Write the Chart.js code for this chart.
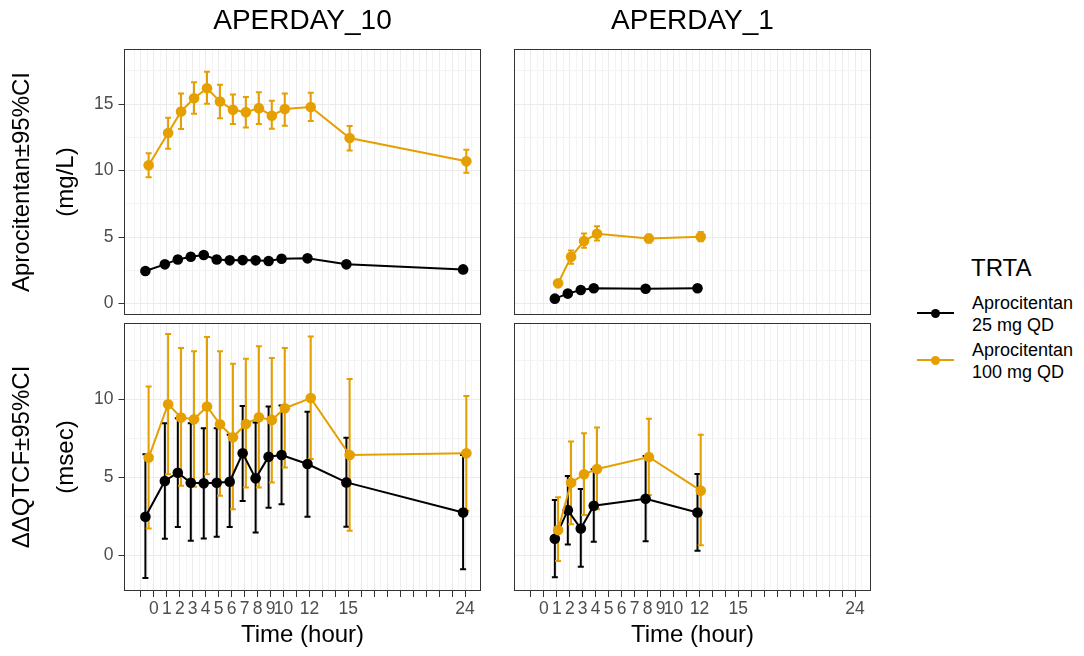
<!DOCTYPE html>
<html>
<head>
<meta charset="utf-8">
<script src="https://cdn.jsdelivr.net/npm/chart.js@4.4.0/dist/chart.umd.min.js"></script>
<style>
  html, body { margin: 0; padding: 0; background: #ffffff; }
  body { width: 1084px; height: 656px; position: relative; overflow: hidden;
         font-family: "Liberation Sans", Arial, sans-serif; }
  .pane { position: absolute; }
  .pane canvas { display: block; }
  .lg { position: absolute; white-space: nowrap; color: #000; }
  .lgline { position: absolute; height: 2px; }
  .lgdot { position: absolute; width: 9px; height: 9px; border-radius: 50%; }
</style>
</head>
<body>
<div class="pane" style="left:0px;top:0px"><canvas id="tl" width="482" height="316"></canvas></div>
<div class="pane" style="left:513px;top:0px"><canvas id="tr" width="359" height="316"></canvas></div>
<div class="pane" style="left:0px;top:322px"><canvas id="bl" width="482" height="334"></canvas></div>
<div class="pane" style="left:513px;top:322px"><canvas id="br" width="359" height="334"></canvas></div>

<div class="lg" style="left:971px;top:254px;font-size:24px;line-height:28px;">TRTA</div>
<div class="lgline" style="left:917px;top:312px;width:37px;background:#000000;"></div>
<div class="lgdot" style="left:931px;top:308.5px;background:#000000;"></div>
<div class="lg" style="left:972px;top:292px;font-size:18px;line-height:22px;">Aprocitentan<br>25 mg QD</div>
<div class="lgline" style="left:917px;top:359px;width:37px;background:#E69F00;"></div>
<div class="lgdot" style="left:931px;top:355.5px;background:#E69F00;"></div>
<div class="lg" style="left:972px;top:339px;font-size:18px;line-height:22px;">Aprocitentan<br>100 mg QD</div>

<script>
// ---------------- DATA ----------------
const treatments = ['Aprocitentan 25 mg QD', 'Aprocitentan 100 mg QD'];
const facets = ['APERDAY_10', 'APERDAY_1'];
const yTitleConc = ['Aprocitentan\u00B195%CI', '(mg/L)'];
const yTitleQtc = ['\u0394\u0394QTCF\u00B195%CI', '(msec)'];
const xTitle = 'Time (hour)';

const timesDay10 = [-0.5, 1, 2, 3, 4, 5, 6, 7, 8, 9, 10, 12, 15, 24];
const timesDay1 = [1, 2, 3, 4, 8, 12];

const xTickValues = [0, 1, 2, 3, 4, 5, 6, 7, 8, 9, 10, 12, 15, 24];
const xTickLabels = ['0', '1', '2', '3', '4', '5', '6', '7', '8', '9', '10', '12', '15', '24'];
const yTickValuesConc = [0, 5, 10, 15];
const yTickLabelsConc = ['0', '5', '10', '15'];
const yTickValuesQtc = [0, 5, 10];
const yTickLabelsQtc = ['0', '5', '10'];

// Concentration, APERDAY_10
const conc10_25 =   [2.45, 2.95, 3.32, 3.52, 3.65, 3.32, 3.25, 3.27, 3.25, 3.20, 3.37, 3.40, 2.95, 2.57];
const conc10_25Lo = [2.25, 2.75, 3.10, 3.30, 3.42, 3.10, 3.05, 3.07, 3.05, 3.00, 3.15, 3.18, 2.75, 2.35];
const conc10_25Hi = [2.65, 3.15, 3.54, 3.74, 3.88, 3.54, 3.45, 3.47, 3.45, 3.40, 3.59, 3.62, 3.15, 2.79];
const conc10_100 =   [10.40, 12.83, 14.45, 15.45, 16.20, 15.20, 14.58, 14.40, 14.70, 14.13, 14.63, 14.78, 12.45, 10.70];
const conc10_100Lo = [9.50, 11.65, 13.13, 14.28, 15.03, 13.95, 13.50, 13.25, 13.50, 13.15, 13.38, 13.73, 11.52, 9.85];
const conc10_100Hi = [11.30, 13.98, 15.80, 16.65, 17.43, 16.47, 15.72, 15.53, 15.90, 15.25, 15.80, 15.85, 13.35, 11.57];

// Concentration, APERDAY_1
const conc1_25 =   [0.37, 0.75, 1.02, 1.15, 1.12, 1.15];
const conc1_25Lo = [0.27, 0.63, 0.90, 1.02, 0.99, 1.01];
const conc1_25Hi = [0.47, 0.87, 1.14, 1.28, 1.25, 1.29];
const conc1_100 =   [1.52, 3.52, 4.70, 5.25, 4.90, 5.03];
const conc1_100Lo = [1.30, 3.00, 4.20, 4.75, 4.60, 4.68];
const conc1_100Hi = [1.74, 4.00, 5.27, 5.82, 5.20, 5.38];

// ddQTcF, APERDAY_10
const qtc10_25 =   [2.46, 4.76, 5.29, 4.65, 4.61, 4.65, 4.71, 6.54, 4.93, 6.32, 6.43, 5.85, 4.67, 2.74];
const qtc10_25Lo = [-1.46, 1.05, 1.80, 0.92, 1.07, 1.18, 1.80, 3.47, 1.46, 3.04, 3.26, 2.46, 1.82, -0.90];
const qtc10_25Hi = [6.47, 8.47, 8.79, 8.47, 8.15, 8.15, 7.72, 9.58, 8.51, 9.54, 9.60, 9.20, 7.54, 6.43];
const qtc10_100 =   [6.26, 9.69, 8.83, 8.72, 9.54, 8.40, 7.57, 8.42, 8.85, 8.68, 9.43, 10.08, 6.43, 6.54];
const qtc10_100Lo = [1.71, 5.19, 4.46, 4.39, 5.19, 3.81, 2.94, 4.35, 4.35, 4.67, 5.62, 6.17, 1.56, 2.85];
const qtc10_100Hi = [10.82, 14.19, 13.29, 13.08, 14.00, 13.08, 12.28, 12.60, 13.40, 12.65, 13.29, 14.04, 11.30, 10.22];

// ddQTcF, APERDAY_1
const qtc1_25 =   [1.05, 2.89, 1.71, 3.17, 3.62, 2.74];
const qtc1_25Lo = [-1.41, 0.69, -0.75, 0.86, 0.90, 0.28];
const qtc1_25Hi = [3.54, 5.08, 4.24, 5.51, 6.37, 5.21];
const qtc1_100 =   [1.61, 4.65, 5.19, 5.53, 6.30, 4.14];
const qtc1_100Lo = [-0.37, 1.99, 2.57, 2.94, 3.86, 0.64];
const qtc1_100Hi = [3.71, 7.29, 7.83, 8.19, 8.75, 7.72];

// ---------------- STYLE / LAYOUT ----------------
const COLORS = ['#000000', '#E69F00'];
const DODGE = [-0.15, 0.10];
const FONT = '"Liberation Sans", Arial, sans-serif';
Chart.defaults.font.family = FONT;

const X_MIN = -2.3, X_MAX = 25.23;
const X_MAJOR_MIN = -1, X_MAJOR_MAX = 24;
const CONC_RANGE = [-0.86, 19.15];
const QTC_RANGE = [-2.3, 14.9];

function range(a, b, step) { const r = []; for (let v = a; v <= b + 1e-9; v += step) r.push(Math.round(v * 100) / 100); return r; }
const xGrid = range(X_MAJOR_MIN - 0.5, X_MAJOR_MAX + 0.5, 0.5);
const isInt = v => Math.abs(v - Math.round(v)) < 1e-6;

function zeroPad(s) { s.paddingLeft = 0; s.paddingRight = 0; s.paddingTop = 0; s.paddingBottom = 0; }

const errorBars = {
  id: 'errorBars',
  beforeDatasetsDraw(chart) {
    const { ctx, chartArea } = chart;
    const xs = chart.scales.x, ys = chart.scales.y;
    ctx.save();
    ctx.beginPath();
    ctx.rect(chartArea.left, chartArea.top, chartArea.width, chartArea.height);
    ctx.clip();
    chart.data.datasets.forEach(ds => {
      ctx.strokeStyle = ds.borderColor;
      ctx.lineWidth = 2;
      ds.data.forEach((p, i) => {
        const px = xs.getPixelForValue(p.x);
        const y1 = ys.getPixelForValue(ds.errLo[i]);
        const y2 = ys.getPixelForValue(ds.errHi[i]);
        ctx.beginPath();
        ctx.moveTo(px, y1); ctx.lineTo(px, y2);
        ctx.moveTo(px - 3, y1); ctx.lineTo(px + 3, y1);
        ctx.moveTo(px - 3, y2); ctx.lineTo(px + 3, y2);
        ctx.stroke();
      });
    });
    ctx.restore();
  }
};

const panelBorder = {
  id: 'panelBorder',
  afterDraw(chart) {
    const { ctx, chartArea } = chart;
    ctx.save();
    ctx.strokeStyle = '#333333';
    ctx.lineWidth = 1;
    ctx.strokeRect(Math.round(chartArea.left) + 0.5, Math.round(chartArea.top) + 0.5,
                   Math.round(chartArea.width) - 1, Math.round(chartArea.height) - 1);
    ctx.restore();
  }
};

function makeDataset(idx, times, vals, lo, hi) {
  return {
    label: treatments[idx],
    data: times.map((t, i) => ({ x: t + DODGE[idx], y: vals[i] })),
    errLo: lo, errHi: hi,
    borderColor: COLORS[idx], backgroundColor: COLORS[idx],
    pointBackgroundColor: COLORS[idx], pointBorderWidth: 0,
    pointRadius: 5.3, borderWidth: 2, tension: 0,
    order: idx === 0 ? 1 : 0
  };
}

function panel(id, cfg) {
  const yMajor = cfg.yTicks;
  const yGrid = range(0, cfg.yRange[1], 2.5);
  new Chart(document.getElementById(id), {
    type: 'line',
    data: { datasets: cfg.datasets },
    plugins: [errorBars, panelBorder],
    options: {
      responsive: false, animation: false, devicePixelRatio: 1, events: [],
      layout: { padding: cfg.padding, autoPadding: false },
      plugins: {
        legend: { display: false }, tooltip: { enabled: false },
        title: {
          display: !!cfg.facet, text: cfg.facet || '', fullSize: false, color: '#000000',
          font: { size: 28, weight: 'normal', lineHeight: '32px' },
          padding: { top: 5, bottom: 12 }
        }
      },
      scales: {
        x: {
          type: 'linear', min: X_MIN, max: X_MAX,
          afterBuildTicks: s => { s.ticks = xGrid.map(v => ({ value: v })); },
          afterFit: s => { s.height = cfg.showX ? 65 : 0; zeroPad(s); },
          ticks: {
            display: cfg.showX, autoSkip: false, maxRotation: 0, minRotation: 0,
            padding: 1.5, color: '#4D4D4D', font: { size: 17.5 },
            callback: v => { const k = xTickValues.indexOf(v); return k >= 0 ? xTickLabels[k] : ''; }
          },
          grid: {
            color: c => (c.tick && isInt(c.tick.value)) ? '#EBEBEB' : '#F4F4F4',
            lineWidth: 1, drawTicks: cfg.showX, tickLength: 6, tickWidth: 1,
            tickColor: c => (c.tick && isInt(c.tick.value) && c.tick.value >= X_MAJOR_MIN && c.tick.value <= X_MAJOR_MAX) ? '#333333' : 'rgba(0,0,0,0)'
          },
          border: { display: false },
          title: {
            display: cfg.showX, text: xTitle, color: '#000000',
            font: { size: 24, lineHeight: '28px' }, padding: { top: 0, bottom: 6.5 }
          }
        },
        y: {
          type: 'linear', min: cfg.yRange[0], max: cfg.yRange[1],
          afterBuildTicks: s => { s.ticks = yGrid.map(v => ({ value: v })); },
          afterFit: s => { s.width = cfg.showY ? 124 : 0; zeroPad(s); },
          ticks: {
            display: cfg.showY, padding: 5, color: '#4D4D4D', font: { size: 17.5 },
            callback: v => { const k = yMajor.indexOf(v); return k >= 0 ? cfg.yLabels[k] : ''; }
          },
          grid: {
            color: c => (c.tick && yMajor.indexOf(c.tick.value) >= 0) ? '#EBEBEB' : '#F4F4F4',
            lineWidth: 1, drawTicks: cfg.showY, tickLength: 5.5, tickWidth: 1,
            tickColor: c => (c.tick && yMajor.indexOf(c.tick.value) >= 0) ? '#333333' : 'rgba(0,0,0,0)'
          },
          border: { display: false },
          title: {
            display: cfg.showY, text: cfg.yTitle || '', color: '#000000',
            font: { size: 24, lineHeight: '44px' }, padding: { top: 0, bottom: 0 }
          }
        }
      }
    }
  });
}

panel('tl', {
  facet: facets[0], showX: false, showY: true, yTitle: yTitleConc,
  yRange: CONC_RANGE, yTicks: yTickValuesConc, yLabels: yTickLabelsConc,
  padding: { left: 0, right: 1, top: 0, bottom: 1 },
  datasets: [makeDataset(0, timesDay10, conc10_25, conc10_25Lo, conc10_25Hi),
             makeDataset(1, timesDay10, conc10_100, conc10_100Lo, conc10_100Hi)]
});
panel('tr', {
  facet: facets[1], showX: false, showY: false,
  yRange: CONC_RANGE, yTicks: yTickValuesConc, yLabels: yTickLabelsConc,
  padding: { left: 1, right: 1, top: 0, bottom: 1 },
  datasets: [makeDataset(0, timesDay1, conc1_25, conc1_25Lo, conc1_25Hi),
             makeDataset(1, timesDay1, conc1_100, conc1_100Lo, conc1_100Hi)]
});
panel('bl', {
  facet: null, showX: true, showY: true, yTitle: yTitleQtc,
  yRange: QTC_RANGE, yTicks: yTickValuesQtc, yLabels: yTickLabelsQtc,
  padding: { left: 0, right: 1, top: 1, bottom: 0 },
  datasets: [makeDataset(0, timesDay10, qtc10_25, qtc10_25Lo, qtc10_25Hi),
             makeDataset(1, timesDay10, qtc10_100, qtc10_100Lo, qtc10_100Hi)]
});
panel('br', {
  facet: null, showX: true, showY: false,
  yRange: QTC_RANGE, yTicks: yTickValuesQtc, yLabels: yTickLabelsQtc,
  padding: { left: 1, right: 1, top: 1, bottom: 0 },
  datasets: [makeDataset(0, timesDay1, qtc1_25, qtc1_25Lo, qtc1_25Hi),
             makeDataset(1, timesDay1, qtc1_100, qtc1_100Lo, qtc1_100Hi)]
});
</script>
</body>
</html>
